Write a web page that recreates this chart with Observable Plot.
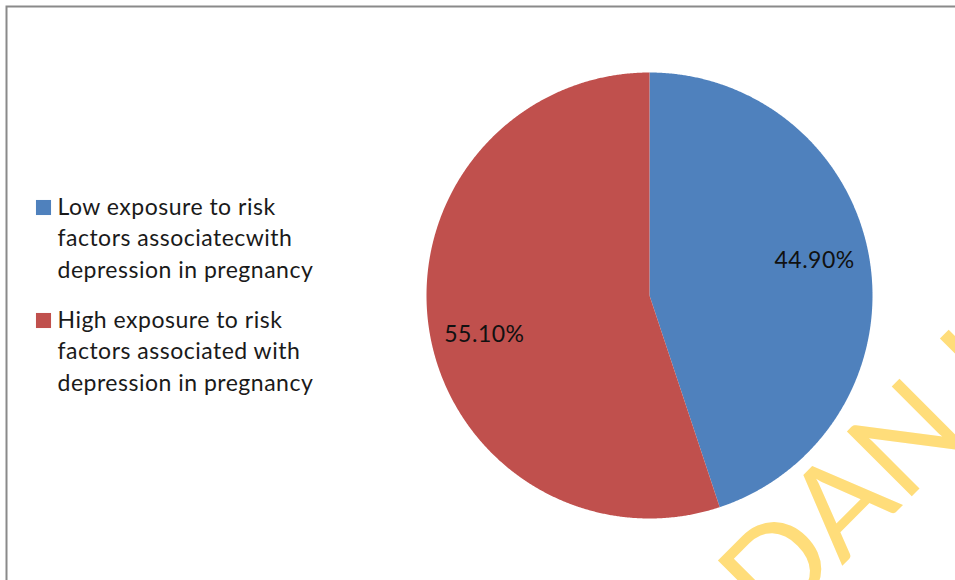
<!DOCTYPE html>
<html><head><meta charset="utf-8">
<script src="https://cdn.jsdelivr.net/npm/d3@7"></script>
<script src="https://cdn.jsdelivr.net/npm/@observablehq/plot@0.6"></script>
<style>body{margin:0;background:#fff}#chart svg{overflow:hidden;display:block}</style>
</head><body><div id="chart"></div>
<script>
const categories = [
  "Low exposure to risk factors associatecwith depression in pregnancy",
  "High exposure to risk factors associated with depression in pregnancy"
];
const legendLines = [
  ["Low exposure to risk", "factors associatecwith", "depression in pregnancy"],
  ["High exposure to risk", "factors associated with", "depression in pregnancy"]
];
const values = [44.9, 55.1];
const valueLabels = ["44.90%", "55.10%"];
const colors = ["#4F81BD", "#C0504D"];
const watermark = ["UNIVERSITY OF IBA", "DAN LIBRARY"];

const W = 955, H = 580;
const FONT = "Lato, 'Open Sans', sans-serif";
const FS = 23;

const arcs = d3.pie().sort(null).value(d => d.value)(
  categories.map((c, i) => ({cat: c, value: values[i], label: valueLabels[i]}))
);
// slice outlines (angles clockwise from 12 o'clock, unit radius)
const slicePts = [];
for (const a of arcs) {
  slicePts.push({cat: a.data.cat, x: 0, y: 0});
  const n = Math.ceil((a.endAngle - a.startAngle) / 0.005);
  for (let k = 0; k <= n; k++) {
    const t = a.startAngle + (a.endAngle - a.startAngle) * k / n;
    slicePts.push({cat: a.data.cat, x: Math.sin(t), y: Math.cos(t)});
  }
}
const labelPts = arcs.map(a => {
  const m = (a.startAngle + a.endAngle) / 2;
  return {label: a.data.label, x: 0.75 * Math.sin(m), y: 0.75 * Math.cos(m)};
});
const labelDy = [-8, 12];

const lh = 32;
const legendMarks = legendLines.flatMap((lines, i) => [
  Plot.dot([categories[i]], {frameAnchor: "top-left", dx: 43, dy: 207 + i * 113,
    symbol: "square", r: 8.5, fill: colors[i], stroke: null}),
  Plot.text([lines.join("\n")], {frameAnchor: "top-left", dx: 57, dy: 214 + i * 113 - 0.71 * lh,
    textAnchor: "start", lineAnchor: "top", lineHeight: lh / FS, fontSize: FS, fill: "#1a1a1a"})
]);

const chart = Plot.plot({
  width: W, height: H, margin: 0,
  x: {domain: [-1, 1], range: [426, 872], axis: null},
  y: {domain: [-1, 1], range: [518, 72], axis: null},
  color: {domain: categories, range: colors},
  style: {fontFamily: FONT, background: "#fff", overflow: "hidden", letterSpacing: "0.5px"},
  marks: [
    Plot.frame({stroke: "#8a8a8a", strokeWidth: 2, insetLeft: 6, insetTop: 6, insetRight: -30, insetBottom: -30}),
    Plot.line(slicePts, {x: "x", y: "y", z: "cat", fill: "cat", stroke: "none", curve: "linear-closed"}),
    ...labelPts.map((d, i) => Plot.text([d], {x: "x", y: "y", text: "label", dy: labelDy[i],
      fontSize: FS, fill: "#111", lineAnchor: "middle"})),
    ...legendMarks,
    Plot.text([watermark[1]], {frameAnchor: "top-left", dx: 774, dy: 633, rotate: -45,
      textAnchor: "start", lineAnchor: "bottom", fontSize: 128, fill: "#FFDD7A"}),
    Plot.text([watermark[0]], {frameAnchor: "top-left", dx: 774, dy: 633, rotate: -45,
      textAnchor: "end", lineAnchor: "bottom", fontSize: 128, fill: "#FFDD7A"})
  ]
});
document.getElementById("chart").appendChild(chart);
</script>
</body></html>
